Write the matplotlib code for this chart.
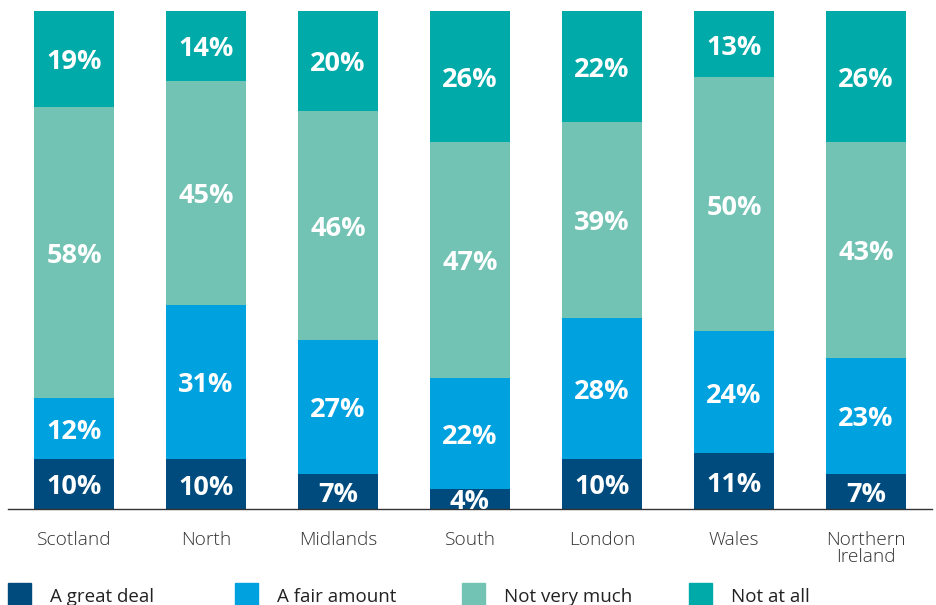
import numpy as np
import matplotlib.pyplot as plt
import matplotlib.patches as patches

regions = ["Scotland", "North", "Midlands", "South", "London", "Wales", "Northern\nIreland"]
series = ["A great deal", "A fair amount", "Not very much", "Not at all"]
great_deal = [10, 10, 7, 4, 10, 11, 7]
fair_amount = [12, 31, 27, 22, 28, 24, 23]
not_very_much = [58, 45, 46, 47, 39, 50, 43]
not_at_all = [19, 14, 20, 26, 22, 13, 26]
colors = ["#004b7d", "#00a1df", "#72c3b4", "#00aaa8"]

plt.rcParams['font.family'] = ['Open Sans', 'DejaVu Sans']

values = np.array([great_deal, fair_amount, not_very_much, not_at_all], dtype=float)
# bars are drawn to full height (rounded figures don't add up to 100)
shares = values / values.sum(axis=0) * 100

fig = plt.figure(figsize=(9.36, 6.05), dpi=100)
ax = fig.add_axes([8 / 936, 96 / 605, 924 / 936, 498 / 605])

x = np.arange(len(regions))
bottom = np.zeros(len(regions))
for i, name in enumerate(series):
    ax.bar(x, shares[i], 0.606, bottom=bottom, color=colors[i], label=name)
    for xi, b, h, v in zip(x, bottom, shares[i], values[i]):
        ax.annotate(f"{v:.0f}%", (xi, b + h / 2), xytext=(0, -2.5),
                    textcoords='offset points', ha='center', va='center',
                    color='white', fontsize=19.5, fontweight='bold')
    bottom += shares[i]

ax.set_xlim(-0.5, 6.5)
ax.set_ylim(0, 100)
ax.set_yticks([])
ax.set_xticks(x)
ax.set_xticklabels(regions, fontsize=13.8, color='#333333', linespacing=0.98,
                   fontweight='light')
ax.tick_params(axis='x', length=0, pad=15.5)
for s in ['top', 'left', 'right']:
    ax.spines[s].set_visible(False)
ax.spines['bottom'].set_color('#333333')
ax.spines['bottom'].set_linewidth(1)

# legend row along the bottom edge
for i, name in enumerate(series):
    x0 = 8 + 227 * i
    fig.add_artist(patches.Rectangle((x0 / 936, -1 / 605), 23 / 936, 23 / 605,
                                     transform=fig.transFigure, color=colors[i]))
    fig.text((x0 + 42) / 936, 8 / 605, name, fontsize=13.5, color='#222222',
             ha='left', va='center')

fig.savefig("out.png", dpi=100)
